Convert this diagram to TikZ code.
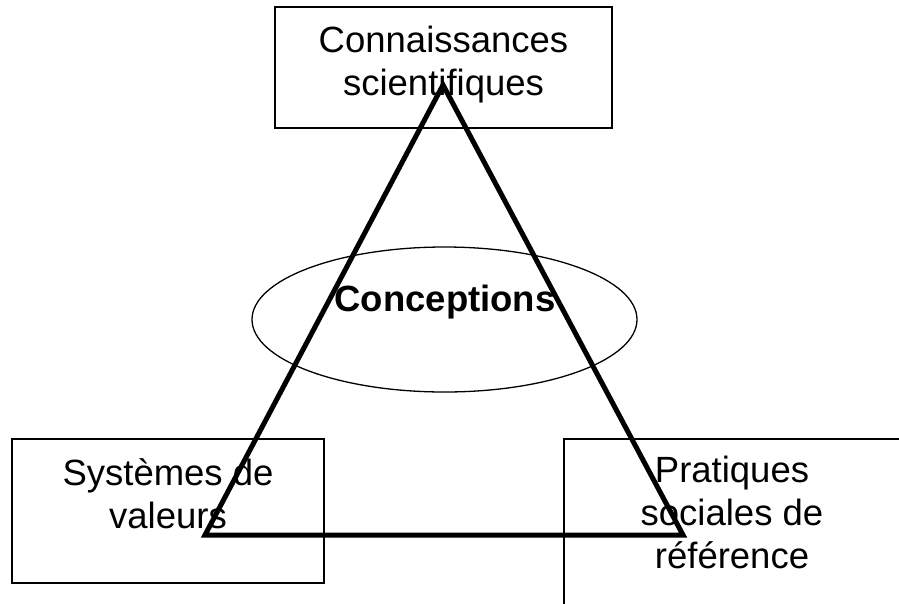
\documentclass[tikz,border=0pt]{standalone}
\usepackage{fontspec}
\setmainfont{Liberation Sans}
\usetikzlibrary{shapes}

\begin{document}
\begin{tikzpicture}[x=1pt,y=-1pt,
  txt/.style={align=center,inner sep=0pt,anchor=base,
    font=\fontsize{36.5}{43}\selectfont},
  boxline/.style={draw,rectangle,line width=1.3pt,inner sep=0pt},
  side/.style={line width=5pt,line join=miter}]

 \useasboundingbox (0,0) rectangle (899,603);
 \clip (0,0) rectangle (899,603);

 \path (443,85) coordinate (Top);
 \path (205,535) coordinate (Left);
 \path (683,535) coordinate (Right);

 % boxes and ellipse
 \node[boxline,minimum width=337pt,minimum height=121pt] (sciBox) at (443.5,67.5) {};
 \node[boxline,minimum width=312pt,minimum height=144pt] (valBox) at (168,511) {};
 \node[boxline,minimum width=338pt,minimum height=200pt] (refBox) at (733,539) {};
 \node[draw,ellipse,line width=1.3pt,inner sep=0pt,
   minimum width=385pt,minimum height=145pt] (concEll) at (444.5,319.5) {};

 % texts (base = last line)
 \node[txt] (sci) at (443.5,95) {Connaissances\\scientifiques};
 \node[txt] (val) at (168,528) {Systèmes de\\valeurs};
 \node[txt] (ref) at (732,568) {Pratiques\\sociales de\\référence};
 \node[txt,font=\fontsize{36.5}{43}\selectfont\bfseries] (concept) at (445,311) {Conceptions};

 \draw[side] (Top) -- (Left) -- (Right) -- cycle;

\end{tikzpicture}
\end{document}
